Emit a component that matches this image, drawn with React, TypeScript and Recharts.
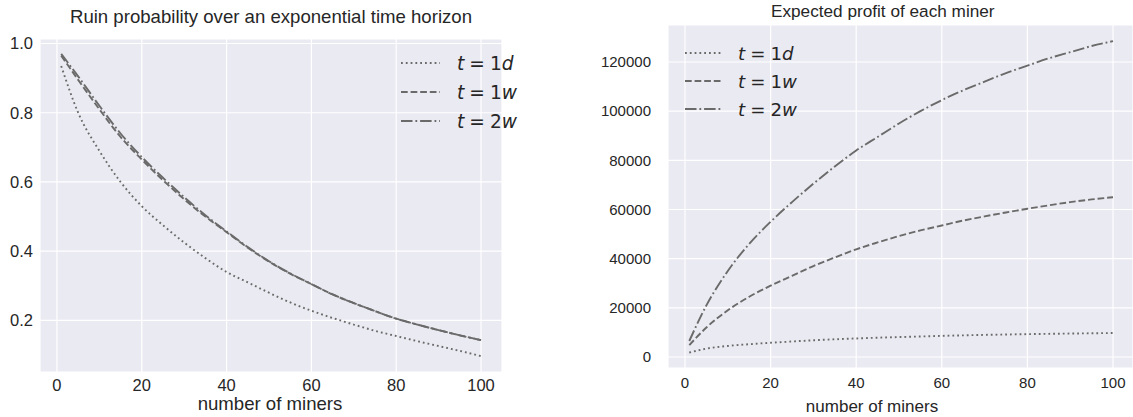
import React from 'react';
import { LineChart, Line, XAxis, YAxis, CartesianGrid } from 'recharts';

const miners = [1, 5, 10, 15, 20, 25, 30, 35, 40, 45, 50, 55, 60, 65, 70, 75, 80, 85, 90, 95, 100];

const ruin1d = [0.935, 0.8, 0.69, 0.6, 0.53, 0.475, 0.425, 0.38, 0.34, 0.31, 0.28, 0.252, 0.228, 0.207, 0.188, 0.17, 0.155, 0.14, 0.126, 0.112, 0.097];
const ruin1w = [0.965, 0.895, 0.81, 0.73, 0.665, 0.605, 0.55, 0.5, 0.455, 0.41, 0.37, 0.335, 0.305, 0.275, 0.25, 0.227, 0.205, 0.188, 0.172, 0.157, 0.143];
const ruin2w = [0.97, 0.905, 0.82, 0.74, 0.672, 0.612, 0.556, 0.504, 0.457, 0.412, 0.371, 0.336, 0.305, 0.275, 0.25, 0.227, 0.205, 0.188, 0.172, 0.157, 0.143];

const profit1d = [1800, 3400, 4500, 5200, 5800, 6300, 6800, 7200, 7550, 7850, 8100, 8350, 8600, 8800, 9000, 9150, 9300, 9420, 9540, 9650, 9750];
const profit1w = [4800, 12000, 19000, 24500, 29000, 33000, 37000, 40500, 43800, 46600, 49200, 51500, 53500, 55500, 57200, 58800, 60300, 61700, 63000, 64100, 65000];
const profit2w = [6500, 21000, 35000, 46000, 55000, 63000, 70500, 77500, 84000, 89500, 95000, 100000, 104500, 108500, 112000, 115500, 118500, 121500, 124000, 126500, 128500];

const xTicks = [0, 20, 40, 60, 80, 100];
const ruinTicks = [0.2, 0.4, 0.6, 0.8, 1.0];
const profitTicks = [0, 20000, 40000, 60000, 80000, 100000, 120000];

const seriesKeys = ['d1', 'w1', 'w2'];
const seriesNum = ['1', '1', '2'];
const seriesUnit = ['d', 'w', 'w'];

const leftTitle = 'Ruin probability over an exponential time horizon';
const rightTitle = 'Expected profit of each miner';
const xLabel = 'number of miners';

const LINE_COLOR = '#6a6a6a';
const DASHES = ['1.8 3', '6.7 2.9', '11.5 2.9 1.8 2.9'];
const FONT = '"Liberation Sans", Arial, sans-serif';
const TEXT = '#262626';
const BG = '#EAEAF2';

const ruinData = miners.map((m, i) => ({ m, d1: ruin1d[i], w1: ruin1w[i], w2: ruin2w[i] }));
const profitData = miners.map((m, i) => ({ m, d1: profit1d[i], w1: profit1w[i], w2: profit2w[i] }));

const leftTick = { fontSize: 16.5, fill: TEXT, fontFamily: FONT };
const rightTick = { fontSize: 15, fill: TEXT, fontFamily: FONT };

function LegendBox({ left, top, gap, width, fontSize, textGap }: { left: number; top: number; gap: number; width: number; fontSize: number; textGap: number }) {
  return (
    <div style={{ position: 'absolute', left, top }}>
      {seriesKeys.map((k, i) => (
        <div key={k} style={{ position: 'absolute', left: 0, top: i * gap - 12, height: 24, display: 'flex', alignItems: 'center', whiteSpace: 'nowrap' }}>
          <svg width={width} height={24} style={{ display: 'block' }}>
            <line x1={0} y1={12} x2={width} y2={12} stroke={LINE_COLOR} strokeWidth={1.9} strokeDasharray={DASHES[i]} />
          </svg>
          <span style={{ marginLeft: textGap, fontFamily: '"DejaVu Sans", sans-serif', fontSize, color: TEXT }}>
            <i>t</i>
            <span style={{ margin: '0 5px' }}>=</span>
            {seriesNum[i]}
            <i>{seriesUnit[i]}</i>
          </span>
        </div>
      ))}
    </div>
  );
}

export default function App() {
  return (
    <div style={{ position: 'absolute', left: 0, top: 0, width: 1133, height: 417, background: '#fff', overflow: 'hidden' }}>
      {/* Left chart */}
      <div style={{ position: 'absolute', left: 0, top: 0 }}>
        <LineChart width={520} height={417} data={ruinData} margin={{ top: 39, right: 18, bottom: 0, left: 0 }}>
          <CartesianGrid fill={BG} stroke="#ffffff" strokeWidth={1.2} />
          <XAxis
            dataKey="m"
            type="number"
            domain={[-4.0, 104.95]}
            ticks={xTicks}
            allowDataOverflow
            axisLine={false}
            tickLine={false}
            tickSize={0}
            tickMargin={7}
            height={45}
            tick={leftTick}
          />
          <YAxis
            type="number"
            domain={[0.051, 1.013]}
            ticks={ruinTicks}
            allowDataOverflow
            axisLine={false}
            tickLine={false}
            tickSize={0}
            tickMargin={7}
            width={40}
            tick={leftTick}
            tickFormatter={(v: number) => v.toFixed(1)}
          />
          {seriesKeys.map((k, i) => (
            <Line key={k} dataKey={k} type="monotone" stroke={LINE_COLOR} strokeWidth={1.9} strokeDasharray={DASHES[i]} dot={false} isAnimationActive={false} />
          ))}
        </LineChart>
      </div>
      <div style={{ position: 'absolute', left: 0, width: 542, top: 4, textAlign: 'center', fontFamily: FONT, fontSize: 18.6, color: TEXT, lineHeight: '26px', whiteSpace: 'nowrap' }}>{leftTitle}</div>
      <div style={{ position: 'absolute', left: 0, width: 540, top: 395, textAlign: 'center', fontFamily: FONT, fontSize: 18.6, color: TEXT, lineHeight: '17px', whiteSpace: 'nowrap' }}>{xLabel}</div>
      <LegendBox left={401} top={63} gap={29} width={39} fontSize={18.6} textGap={17} />

      {/* Right chart */}
      <div style={{ position: 'absolute', left: 600, top: 0 }}>
        <LineChart width={533} height={417} data={profitData} margin={{ top: 25, right: 0, bottom: 0, left: 0 }}>
          <CartesianGrid fill={BG} stroke="#ffffff" strokeWidth={1.2} />
          <XAxis
            dataKey="m"
            type="number"
            domain={[-3.97, 104.67]}
            ticks={xTicks}
            allowDataOverflow
            axisLine={false}
            tickLine={false}
            tickSize={0}
            tickMargin={9}
            height={49}
            tick={rightTick}
          />
          <YAxis
            type="number"
            domain={[-4475, 135050]}
            ticks={profitTicks}
            allowDataOverflow
            axisLine={false}
            tickLine={false}
            tickSize={0}
            tickMargin={17}
            width={68}
            tick={rightTick}
          />
          {seriesKeys.map((k, i) => (
            <Line key={k} dataKey={k} type="monotone" stroke={LINE_COLOR} strokeWidth={1.9} strokeDasharray={DASHES[i]} dot={false} isAnimationActive={false} />
          ))}
        </LineChart>
      </div>
      <div style={{ position: 'absolute', left: 771, width: 200, top: -1, textAlign: 'center', fontFamily: FONT, fontSize: 17.2, color: TEXT, lineHeight: '24px', whiteSpace: 'nowrap' }}>{rightTitle}</div>
      <div style={{ position: 'absolute', left: 772, width: 200, top: 399, textAlign: 'center', fontFamily: FONT, fontSize: 17, color: TEXT, lineHeight: '16px', whiteSpace: 'nowrap' }}>{xLabel}</div>
      <LegendBox left={685} top={53} gap={28} width={36} fontSize={18.2} textGap={17} />
    </div>
  );
}
